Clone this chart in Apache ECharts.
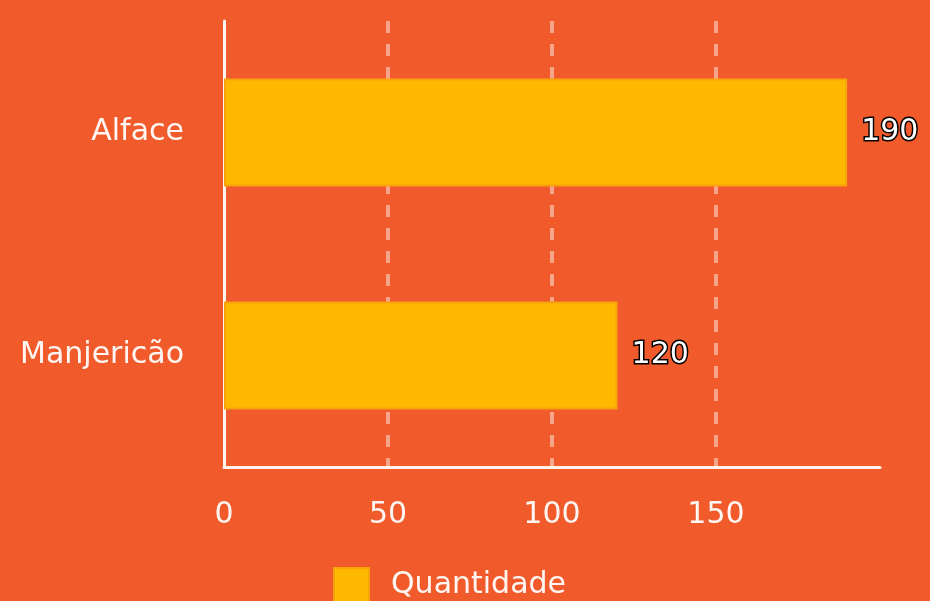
<!DOCTYPE html>
<html>
<head>
<meta charset="utf-8">
<script src="https://cdn.jsdelivr.net/npm/echarts@6/dist/echarts.min.js"></script>
<style>
html,body{margin:0;padding:0;background:#F15B2B;}
#chart{width:930px;height:601px;}
</style>
</head>
<body>
<div id="chart"></div>
<script>
const categories = ['Alface', 'Manjericão'];
const quantidade = [190, 120];
const seriesName = 'Quantidade';
const xMin = 0, xMax = 200, xInterval = 50;

const chart = echarts.init(document.getElementById('chart'), null, {renderer: 'canvas'});
const font = 'DejaVu Sans';
const textColor = 'rgba(255,255,255,0.95)';
chart.setOption({
  backgroundColor: '#F15B2B',
  animation: false,
  grid: {left: 224, right: 50, top: 21, bottom: 134, containLabel: false},
  legend: {
    top: 567, left: 333, padding: 0,
    itemWidth: 35, itemHeight: 35, itemGap: 10,
    icon: 'rect',
    textStyle: {color: textColor, fontSize: 30, fontFamily: font, padding: [0,0,0,17]},
    data: [seriesName]
  },
  xAxis: {
    type: 'value', min: xMin, max: xMax, interval: xInterval,
    axisLine: {show: true, lineStyle: {color: '#FFF3EE', width: 3}},
    axisTick: {show: false},
    axisLabel: {color: textColor, fontSize: 30, fontFamily: font, margin: 33, showMaxLabel: false},
    splitLine: {show: true, showMinLine: false, showMaxLine: false,
      lineStyle: {color: 'rgba(255,255,255,0.45)', width: 4, type: [12, 11]}}
  },
  yAxis: {
    type: 'category', data: categories, inverse: true,
    axisLine: {show: true, lineStyle: {color: '#FFF3EE', width: 3}},
    axisTick: {show: false},
    axisLabel: {color: textColor, fontSize: 30, fontFamily: font, margin: 40},
    splitLine: {show: false}
  },
  series: [{
    name: seriesName, type: 'bar', data: quantidade, barWidth: 108,
    itemStyle: {color: '#FFB800', borderColor: '#F9A20C', borderWidth: 2},
    label: {show: true, position: 'right', distance: 14, color: '#fff',
      fontSize: 30, fontFamily: font, textBorderColor: '#000', textBorderWidth: 3}
  }]
});
</script>
</body>
</html>
